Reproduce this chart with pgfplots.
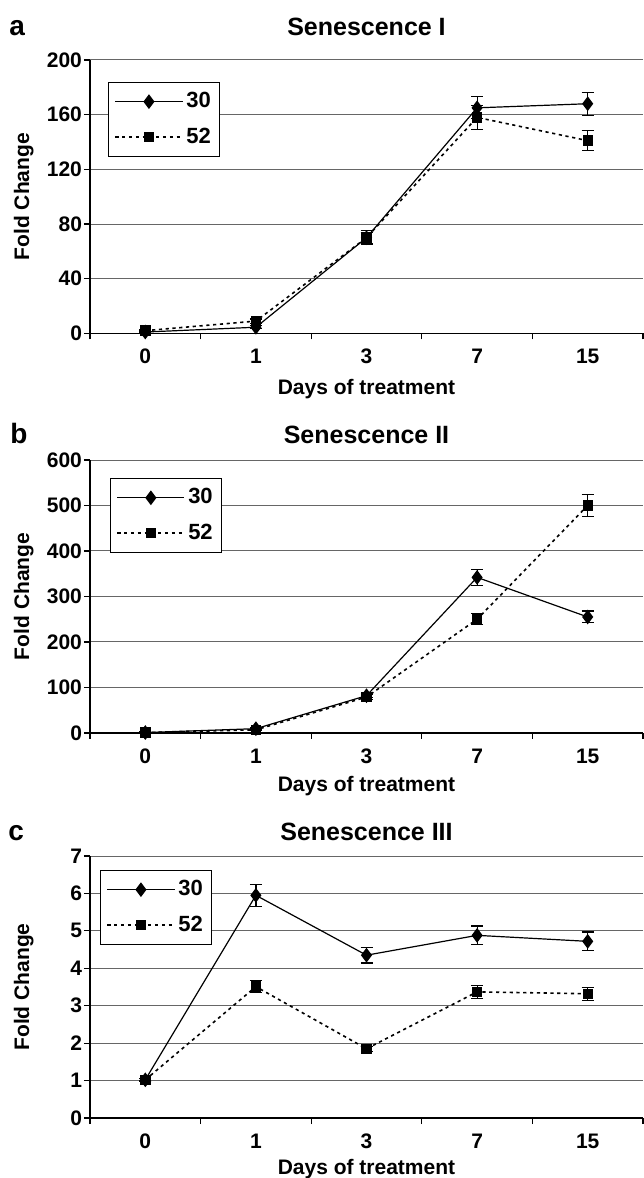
\documentclass[border=0pt]{standalone}
\usepackage{fontspec}
\setmainfont{Liberation Sans}
\usepackage{pgfplots}
\pgfplotsset{compat=1.18}

\tikzset{
  ttl/.style={anchor=base, font=\bfseries\fontsize{12.5}{15}\selectfont},
  lett/.style={anchor=base west, inner sep=0pt, font=\bfseries\fontsize{14}{16}\selectfont},
}
\pgfplotsset{
  s30/.style={black, line width=0.6pt, mark=diamond*, mark size=3.2pt,
    mark options={solid, fill=black}},
  s52/.style={black, line width=0.8pt, dash pattern=on 1.6pt off 1.8pt,
    mark=square*, mark size=2.2pt, mark options={solid, fill=black}},
  eb/.style={error bars/.cd, y dir=both, y explicit,
    error bar style={solid, line width=0.6pt, black},
    error mark options={rotate=90, mark size=3pt, line width=0.6pt, solid}},
  panel/.style={
    scale only axis, width=276.5pt,
    xmin=-0.5, xmax=4.5,
    xtick={-0.5,0.5,1.5,2.5,3.5,4.5}, xticklabels={},
    extra x ticks={0,1,2,3,4}, extra x tick labels={0,1,3,7,15},
    extra x tick style={major tick length=0pt, grid=none},
    major tick length=3pt, tick align=outside,
    xticklabel shift=4.3pt,
    yticklabel style={xshift=2.5pt},
    ymajorgrids, grid style={black!60, line width=0.5pt},
    axis x line*=bottom, axis y line*=left,
    axis line style={black, line width=0.7pt, -},
    tick style={black, line width=0.6pt},
    ticklabel style={font=\bfseries\fontsize{10.5}{12}\selectfont},
    /pgf/number format/assume math mode=true,
    label style={font=\bfseries\fontsize{10.5}{12}\selectfont},
    xlabel={Days of treatment}, ylabel={Fold Change},
    ylabel style={at={(axis description cs:-0.12,0.5)}, anchor=center},
    clip=false,
    legend cell align=left,
    legend style={draw=black, line width=0.6pt, fill=white, anchor=north west,
      inner xsep=3pt, inner ysep=4pt, row sep=6.5pt,
      nodes={inner xsep=1.5pt, inner ysep=1pt},
      font=\bfseries\fontsize{11}{12}\selectfont},
    legend image code/.code={\draw[mark repeat=2,mark phase=2,#1]
      plot coordinates {(0cm,0cm) (0.59cm,0cm) (1.18cm,0cm)};},
  },
}

\begin{document}
\begin{tikzpicture}
\useasboundingbox (0,0) rectangle (321.5pt,589pt);

% panel a
\begin{axis}[panel, at={(45pt,422.3pt)}, anchor=south west, height=136.7pt,
    ymin=0, ymax=200, ytick={0,40,...,200},
    xlabel style={at={(axis description cs:0.5,0)}, anchor=center, yshift=-28pt},
    legend style={at={(axis description cs:0.0325,0.92)}}]
  \addplot[s30, eb] coordinates {(0,1) +- (0,0.5) (1,4.5) +- (0,1) (2,70) +- (0,4)
    (3,165) +- (0,8) (4,168) +- (0,8.5)};
  \addplot[s52, eb] coordinates {(0,2) +- (0,0.5) (1,9) +- (0,1.5) (2,70) +- (0,5)
    (3,158) +- (0,9) (4,141) +- (0,7.5)};
  \legend{30,52}
  \node[ttl, yshift=12pt] at (rel axis cs:0.5,1) {Senescence I};
  \node[lett, xshift=-40.5pt, yshift=12pt] at (rel axis cs:0,1) {a};
\end{axis}

% panel b
\begin{axis}[panel, at={(45pt,222.5pt)}, anchor=south west, height=136.5pt,
    ymin=0, ymax=600, ytick={0,100,...,600},
    xlabel style={at={(axis description cs:0.5,0)}, anchor=center, yshift=-26.5pt},
    legend style={at={(axis description cs:0.036,0.934)}}]
  \addplot[s30, eb] coordinates {(0,1) +- (0,1) (1,9.5) +- (0,2) (2,82) +- (0,4)
    (3,342) +- (0,17) (4,255) +- (0,13)};
  \addplot[s52, eb] coordinates {(0,1) +- (0,1) (1,7) +- (0,2) (2,79) +- (0,5)
    (3,250) +- (0,12) (4,500) +- (0,25)};
  \legend{30,52}
  \node[ttl, yshift=8.5pt] at (rel axis cs:0.5,1) {Senescence II};
  \node[lett, xshift=-40pt, yshift=8.5pt] at (rel axis cs:0,1) {b};
\end{axis}

% panel c
\begin{axis}[panel, at={(45pt,30pt)}, anchor=south west, height=131pt,
    ymin=0, ymax=7, ytick={0,1,...,7},
    xlabel style={at={(axis description cs:0.5,0)}, anchor=center, yshift=-25.5pt},
    legend style={at={(axis description cs:0.018,0.947)}}]
  \addplot[s30, eb] coordinates {(0,1.02) +- (0,0.03) (1,5.95) +- (0,0.29)
    (2,4.35) +- (0,0.21) (3,4.88) +- (0,0.25) (4,4.72) +- (0,0.25)};
  \addplot[s52, eb] coordinates {(0,1.02) +- (0,0.04) (1,3.51) +- (0,0.16)
    (2,1.85) +- (0,0.07) (3,3.37) +- (0,0.18) (4,3.32) +- (0,0.17)};
  \legend{30,52}
  \node[ttl, yshift=8pt] at (rel axis cs:0.5,1) {Senescence III};
  \node[lett, xshift=-41pt, yshift=8pt] at (rel axis cs:0,1) {c};
\end{axis}
\end{tikzpicture}
\end{document}
